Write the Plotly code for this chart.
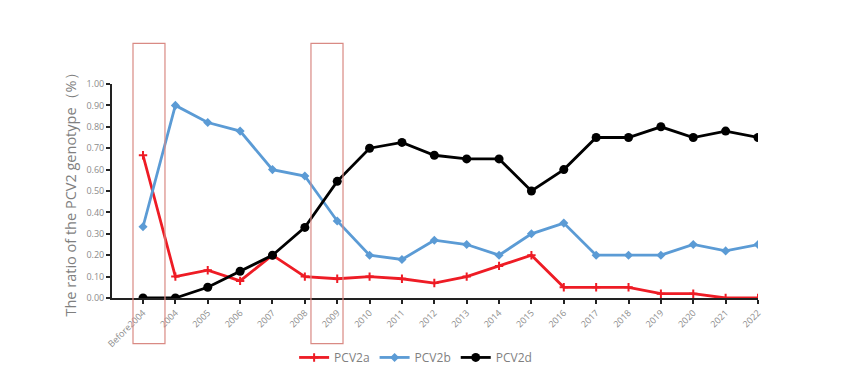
import plotly.graph_objects as go

categories = ["Before2004", "2004", "2005", "2006", "2007", "2008", "2009", "2010", "2011", "2012",
              "2013", "2014", "2015", "2016", "2017", "2018", "2019", "2020", "2021", "2022"]
pcv2a = [0.667, 0.10, 0.13, 0.08, 0.20, 0.10, 0.09, 0.10, 0.09, 0.07,
         0.10, 0.15, 0.20, 0.05, 0.05, 0.05, 0.02, 0.02, 0.0, 0.0]
pcv2b = [0.333, 0.90, 0.82, 0.78, 0.60, 0.57, 0.36, 0.20, 0.18, 0.27,
         0.25, 0.20, 0.30, 0.35, 0.20, 0.20, 0.20, 0.25, 0.22, 0.25]
pcv2d = [0.0, 0.0, 0.05, 0.125, 0.20, 0.33, 0.545, 0.70, 0.727, 0.667,
         0.65, 0.65, 0.50, 0.60, 0.75, 0.75, 0.80, 0.75, 0.78, 0.75]
y_ticks = [0.0, 0.1, 0.2, 0.3, 0.4, 0.5, 0.6, 0.7, 0.8, 0.9, 1.0]

idx = list(range(len(categories)))

fig = go.Figure()
fig.add_trace(go.Scatter(x=idx, y=pcv2a, name="PCV2a", mode="lines+markers",
                         line=dict(color="#ee1c25", width=2.8),
                         marker=dict(symbol="cross-thin", size=6, line=dict(color="#ee1c25", width=2))))
fig.add_trace(go.Scatter(x=idx, y=pcv2b, name="PCV2b", mode="lines+markers",
                         line=dict(color="#5b9bd5", width=2.8),
                         marker=dict(symbol="diamond", size=7, color="#5b9bd5")))
fig.add_trace(go.Scatter(x=idx, y=pcv2d, name="PCV2d", mode="lines+markers",
                         line=dict(color="#000000", width=2.8),
                         marker=dict(symbol="circle", size=9, color="#000000")))

rect_color = "#d98a84"
for x0, x1 in [(0.0325, 0.082), (0.308, 0.3576)]:
    fig.add_shape(type="rect", xref="paper", yref="paper", x0=x0, x1=x1, y0=-0.213, y1=1.19,
                  line=dict(color=rect_color, width=1.2), fillcolor="rgba(0,0,0,0)")

fig.update_layout(
    width=855, height=384,
    margin=dict(l=112, r=97, t=84, b=84),
    paper_bgcolor="white", plot_bgcolor="white",
    font=dict(family="Open Sans, sans-serif", color="#7f7f7f"),
    showlegend=True,
    legend=dict(orientation="h", x=0.47, xanchor="center", y=-0.21, yanchor="top",
                font=dict(size=12, color="#7f7f7f"), itemwidth=30, tracegroupgap=0,
                bgcolor="rgba(0,0,0,0)"),
    xaxis=dict(range=[-0.958, 19], tickmode="array", tickvals=idx, ticktext=categories,
               tickangle=-45, tickfont=dict(size=9, color="#8c8c8c"),
               showgrid=False, zeroline=False, showline=True, linecolor="#222222", linewidth=2,
               ticks="outside", ticklen=4, tickcolor="#222222", tickwidth=1.5),
    yaxis=dict(range=[0, 1.0], tickmode="array", tickvals=y_ticks,
               ticktext=[f"{v:.2f}" for v in y_ticks], tickfont=dict(size=9, color="#8c8c8c"),
               showgrid=False, zeroline=False, showline=True, linecolor="#222222", linewidth=2,
               ticks="outside", ticklen=4, tickcolor="#222222", tickwidth=1.5,
               title=dict(text="The ratio of the PCV2 genotype（%）", font=dict(size=14.5, color="#7f7f7f"),
                          standoff=6)),
)

fig.write_html("out.html", config={"displayModeBar": False},
               post_script="document.body.style.margin='0px';")
